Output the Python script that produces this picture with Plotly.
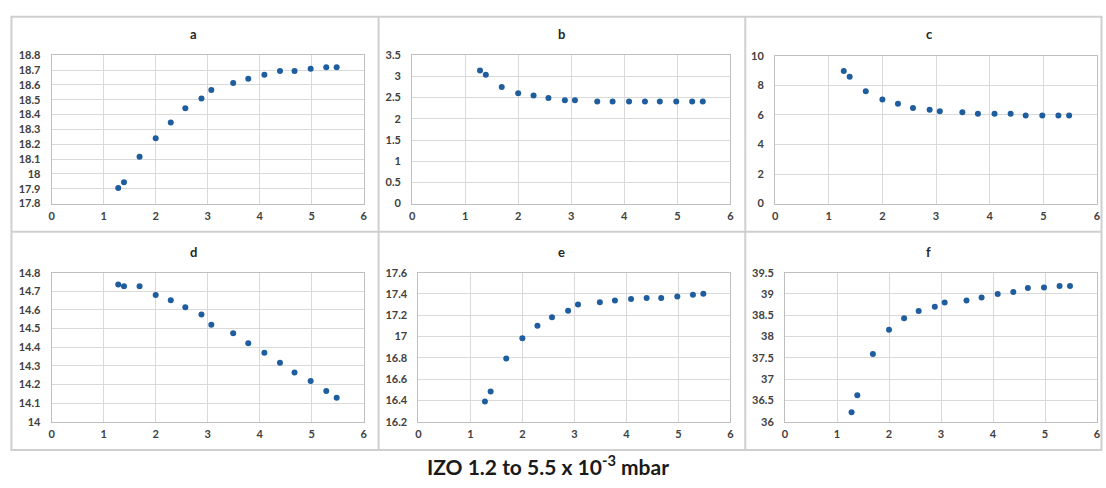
import plotly.graph_objects as go

W, H = 1106, 488

pressure = [1.28, 1.39, 1.69, 2.0, 2.29, 2.57, 2.88, 3.07, 3.49, 3.78, 4.09, 4.39, 4.67, 4.98, 5.28, 5.48]

series_a = [17.905, 17.944, 18.115, 18.24, 18.347, 18.443, 18.509, 18.566, 18.612, 18.642, 18.669, 18.693, 18.693, 18.708, 18.719, 18.719]
series_b = [3.14, 3.04, 2.75, 2.60, 2.55, 2.49, 2.44, 2.44, 2.41, 2.41, 2.41, 2.41, 2.41, 2.41, 2.41, 2.41]
series_c = [8.97, 8.57, 7.60, 7.03, 6.75, 6.46, 6.35, 6.24, 6.18, 6.07, 6.07, 6.07, 5.96, 5.96, 5.96, 5.96]
series_d = [14.737, 14.728, 14.728, 14.681, 14.652, 14.615, 14.575, 14.521, 14.475, 14.421, 14.370, 14.316, 14.264, 14.218, 14.164, 14.128]
series_e = [16.39, 16.484, 16.793, 16.983, 17.102, 17.182, 17.243, 17.301, 17.322, 17.338, 17.353, 17.362, 17.362, 17.377, 17.393, 17.402]
series_f = [36.22, 36.62, 37.59, 38.16, 38.43, 38.60, 38.70, 38.80, 38.85, 38.92, 39.00, 39.05, 39.14, 39.15, 39.19, 39.19]

panel_titles = ["a", "b", "c", "d", "e", "f"]
panel_series = [series_a, series_b, series_c, series_d, series_e, series_f]
y_ranges = [(17.8, 18.8, 0.1), (0, 3.5, 0.5), (0, 10, 2), (14, 14.8, 0.1), (16.2, 17.6, 0.2), (36, 39.5, 0.5)]
x_range = (0, 6, 1)

main_title = "IZO 1.2 to 5.5 x 10<sup>-3</sup> mbar"

# pixel layout of the plot areas (left, right, top, bottom)
boxes = [
    (49, 363, 49.5, 202),
    (411.7, 732, 49.5, 202),
    (777, 1101, 50, 202),
    (49, 363, 273, 426),
    (418, 732, 273, 426),
    (787, 1101, 273, 426),
]
title_pos = [(192, 28), (562, 28), (932, 28), (192, 252), (562, 252), (931, 252)]

fx = lambda px: px / W
fy = lambda py: 1 - py / H

fig = go.Figure()
layout = dict(
    width=W, height=H, margin=dict(l=0, r=0, t=0, b=0),
    paper_bgcolor="white", plot_bgcolor="white", showlegend=False,
)
annotations = []
tick_font = dict(family="Lato, Carlito, Arial", size=11, color="#404040", weight="bold")
grid_c = "#d9d9d9"

for i, (ys, ttl) in enumerate(zip(panel_series, panel_titles)):
    n = "" if i == 0 else str(i + 1)
    l, r, t, b = boxes[i]
    y0, y1, dy = y_ranges[i]
    fig.add_trace(go.Scatter(
        x=pressure, y=ys, mode="markers",
        marker=dict(color="#1F5E9E", size=6),
        xaxis="x" + n, yaxis="y" + n, hoverinfo="x+y",
    ))
    layout["xaxis" + n] = dict(
        domain=[fx(l), fx(r)], anchor="y" + n, range=[x_range[0], x_range[1]],
        dtick=x_range[2], tick0=0, showgrid=True, gridcolor=grid_c, gridwidth=1,
        showline=True, linecolor="#bfbfbf", linewidth=1, mirror=True,
        zeroline=False, ticks="", tickfont=tick_font, fixedrange=True,
        ticklabelstandoff=2,
    )
    layout["yaxis" + n] = dict(
        domain=[fy(b), fy(t)], anchor="x" + n, range=[y0, y1],
        dtick=dy, tick0=y0, showgrid=True, gridcolor=grid_c, gridwidth=1,
        showline=True, linecolor="#bfbfbf", linewidth=1, mirror=True,
        zeroline=False, ticks="", tickfont=tick_font, fixedrange=True,
        ticklabelstandoff=8,
    )
    tx, ty = title_pos[i]
    annotations.append(dict(
        x=fx(tx), y=fy(ty), xref="paper", yref="paper", text=ttl, showarrow=False,
        font=dict(family="Lato, Carlito, Arial", size=13, color="#262626", weight="bold"),
        xanchor="center", yanchor="middle",
    ))

annotations.append(dict(
    x=fx(548), y=fy(471), xref="paper", yref="paper", text=main_title, showarrow=False,
    font=dict(family="Lato, Carlito, Arial", size=21, color="#1a1a1a", weight="bold"),
    xanchor="center", yanchor="middle",
))

border_c = "#cfcfcf"
shapes = [
    dict(type="rect", xref="paper", yref="paper", x0=fx(8.5), x1=fx(1105.5), y0=fy(455), y1=fy(10),
         line=dict(color=border_c, width=2)),
    dict(type="line", xref="paper", yref="paper", x0=fx(378), x1=fx(378), y0=fy(455), y1=fy(10),
         line=dict(color=border_c, width=2)),
    dict(type="line", xref="paper", yref="paper", x0=fx(747), x1=fx(747), y0=fy(455), y1=fy(10),
         line=dict(color=border_c, width=2)),
    dict(type="line", xref="paper", yref="paper", x0=fx(8.5), x1=fx(1105.5), y0=fy(231), y1=fy(231),
         line=dict(color=border_c, width=2)),
]

layout["annotations"] = annotations
layout["shapes"] = shapes
fig.update_layout(**layout)
fig.write_html("out.html")
